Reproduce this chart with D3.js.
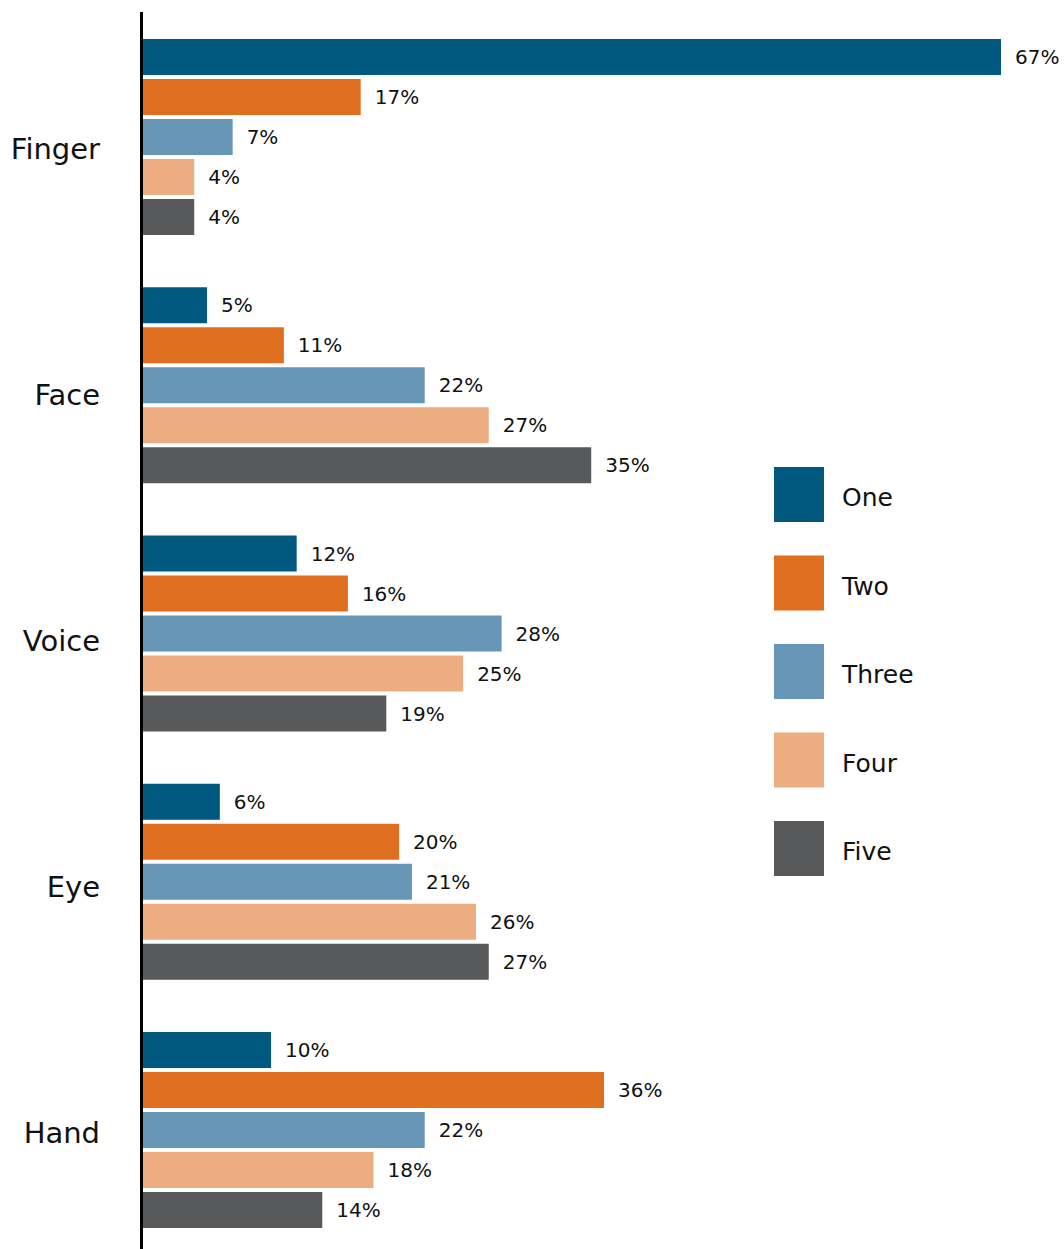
<!DOCTYPE html>
<html>
<head>
<meta charset="utf-8">
<script src="https://cdn.jsdelivr.net/npm/d3@7"></script>
<style>
  html, body { margin: 0; padding: 0; background: #fff; }
  svg text { font-family: "DejaVu Sans", "Open Sans", sans-serif; fill: #111; }
</style>
</head>
<body>
<svg id="chart" width="1064" height="1249"></svg>
<script>
// Categories down the side, series within each group
const categories = ["Finger", "Face", "Voice", "Eye", "Hand"];
const series = ["One", "Two", "Three", "Four", "Five"];

// Percent values for each series, in category order
const one   = [67, 5, 12, 6, 10];
const two   = [17, 11, 16, 20, 36];
const three = [7, 22, 28, 21, 22];
const four  = [4, 27, 25, 26, 18];
const five  = [4, 35, 19, 27, 14];

const colors = ["#02597f", "#df6f1f", "#6796b7", "#ecad80", "#58595b"];

const valuesBySeries = [one, two, three, four, five];
const rows = [];
categories.forEach((c, ci) => {
  series.forEach((s, si) => {
    rows.push({ category: c, series: s, value: valuesBySeries[si][ci], color: colors[si] });
  });
});

const svg = d3.select("#chart");

const x = d3.scaleLinear().domain([0, 67]).range([143, 1001]);
const yGroup = d3.scaleBand().domain(categories).range([39, 39 + 248.25 * categories.length]).padding(0);
const yInner = d3.scaleBand().domain(series).range([0, 196]).paddingInner(0.1).paddingOuter(0);
// Category names sit on their own evenly spaced band
const yLabel = d3.scaleBand().domain(categories).range([25, 25 + 246 * categories.length]).padding(0);

// Bars
const groups = svg.selectAll("g.group")
  .data(categories)
  .join("g")
  .attr("class", "group")
  .attr("transform", d => `translate(0,${yGroup(d)})`);

groups.selectAll("rect")
  .data(c => rows.filter(r => r.category === c))
  .join("rect")
  .attr("x", x(0))
  .attr("y", d => yInner(d.series))
  .attr("width", d => x(d.value) - x(0))
  .attr("height", yInner.bandwidth())
  .attr("fill", d => d.color);

// Value labels
groups.selectAll("text.val")
  .data(c => rows.filter(r => r.category === c))
  .join("text")
  .attr("class", "val")
  .attr("x", d => x(d.value) + 14)
  .attr("y", d => yInner(d.series) + yInner.bandwidth() / 2 + 7)
  .attr("font-size", 20)
  .text(d => d.value + "%");

// Category labels
svg.append("g")
  .selectAll("text")
  .data(categories)
  .join("text")
  .attr("x", 100)
  .attr("y", d => yLabel(d) + yLabel.bandwidth() / 2 + 10.5)
  .attr("text-anchor", "end")
  .attr("font-size", 29)
  .text(d => d);

// Vertical baseline
svg.append("line")
  .attr("x1", x(0) - 1.5).attr("x2", x(0) - 1.5)
  .attr("y1", 12).attr("y2", 1249)
  .attr("stroke", "#000")
  .attr("stroke-width", 3);

// Legend
const legendY = d3.scaleBand().domain(series).range([467, 467 + 88.5 * series.length]).padding(0);
const legend = svg.append("g");
const items = legend.selectAll("g")
  .data(series)
  .join("g")
  .attr("transform", d => `translate(774,${legendY(d)})`);
items.append("rect")
  .attr("width", 50)
  .attr("height", 55)
  .attr("fill", (d, i) => colors[i]);
items.append("text")
  .attr("x", 68)
  .attr("y", 39)
  .attr("font-size", 25)
  .text(d => d);
</script>
</body>
</html>
